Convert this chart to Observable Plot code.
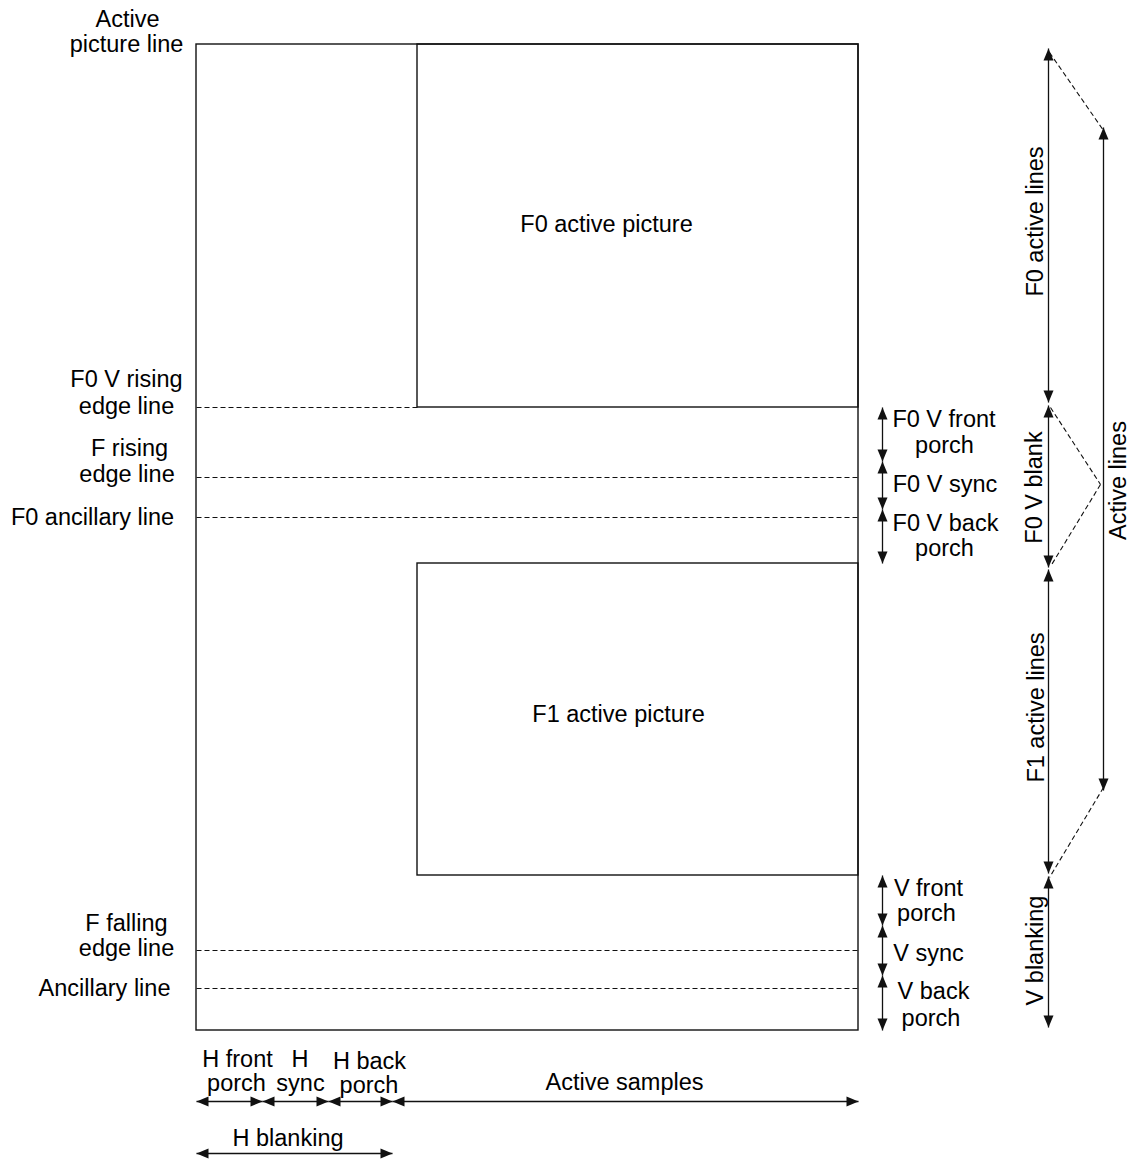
<!DOCTYPE html>
<html><head><meta charset="utf-8">
<script src="https://cdn.jsdelivr.net/npm/d3@7"></script>
<script src="https://cdn.jsdelivr.net/npm/@observablehq/plot@0.6"></script>
<style>html,body{margin:0;padding:0;background:#fff}</style>
</head><body><div id="chart"></div>
<script>
// Diagram geometry (in diagram units, mapped 1:1 by the x/y scales)
const boxes = [
  {name: "frame", x1: 196, x2: 858, y1: 44, y2: 1030},
  {name: "F0 active picture", x1: 417, x2: 858, y1: 44, y2: 407},
  {name: "F1 active picture", x1: 417, x2: 858, y1: 563, y2: 875}
];
const dashedRules = [
  {name: "F0 V rising edge line", y: 407, x1: 196, x2: 417},
  {name: "F rising edge line", y: 477, x1: 196, x2: 858},
  {name: "F0 ancillary line", y: 517, x1: 196, x2: 858},
  {name: "F falling edge line", y: 950, x1: 196, x2: 858},
  {name: "Ancillary line", y: 988, x1: 196, x2: 858}
];
const connectors = [
  {x1: 1049, y1: 52, x2: 1103, y2: 130},
  {x1: 1050, y1: 407, x2: 1100, y2: 484},
  {x1: 1100, y1: 484, x2: 1050, y2: 566},
  {x1: 1103, y1: 787, x2: 1049, y2: 877}
];
const vSpans = [
  {x: 882, y1: 407, y2: 461},
  {x: 882, y1: 461, y2: 509},
  {x: 882, y1: 509, y2: 563},
  {x: 882, y1: 875, y2: 925},
  {x: 882, y1: 925, y2: 975},
  {x: 882, y1: 975, y2: 1030},
  {x: 1048, y1: 48, y2: 402},
  {x: 1048, y1: 405, y2: 567},
  {x: 1048, y1: 569, y2: 873},
  {x: 1048, y1: 876, y2: 1027},
  {x: 1103, y1: 127, y2: 790}
];
const hSpans = [
  {y: 1101, x1: 196, x2: 262},
  {y: 1101, x1: 262, x2: 328},
  {y: 1101, x1: 328, x2: 392},
  {y: 1101, x1: 392, x2: 858},
  {y: 1153, x1: 196, x2: 392}
];
const labels = [
  {text: "Active", x: 127, y: 18.5},
  {text: "picture line", x: 126, y: 44},
  {text: "F0 V rising", x: 126, y: 378.5},
  {text: "edge line", x: 126, y: 405.5},
  {text: "F rising", x: 129, y: 448},
  {text: "edge line", x: 126.5, y: 474},
  {text: "F0 ancillary line", x: 92, y: 516.5},
  {text: "F falling", x: 126, y: 923},
  {text: "edge line", x: 126, y: 947.5},
  {text: "Ancillary line", x: 104, y: 987.5},
  {text: "F0 active picture", x: 606, y: 224},
  {text: "F1 active picture", x: 618, y: 714},
  {text: "F0 V front", x: 943.5, y: 418.5},
  {text: "porch", x: 944, y: 445},
  {text: "F0 V sync", x: 944.5, y: 484},
  {text: "F0 V back", x: 945, y: 522.5},
  {text: "porch", x: 944, y: 547.5},
  {text: "V front", x: 928, y: 887.5},
  {text: "porch", x: 926, y: 913},
  {text: "V sync", x: 928, y: 952.5},
  {text: "V back", x: 933, y: 990.5},
  {text: "porch", x: 930.5, y: 1017.5},
  {text: "H front", x: 237, y: 1058.5},
  {text: "porch", x: 236, y: 1083},
  {text: "H", x: 299.5, y: 1058.5},
  {text: "sync", x: 300, y: 1083},
  {text: "H back", x: 369, y: 1061},
  {text: "porch", x: 368.5, y: 1085},
  {text: "Active samples", x: 624, y: 1082},
  {text: "H blanking", x: 287.5, y: 1138}
];
const verticalLabels = [
  {text: "F0 active lines", x: 1035, y: 221},
  {text: "F0 V blank", x: 1033.5, y: 487},
  {text: "Active lines", x: 1118, y: 480},
  {text: "F1 active lines", x: 1036, y: 707},
  {text: "V blanking", x: 1035, y: 950}
];

// Filled arrowhead glyphs, tip at the anchor point
const headGlyph = (pts) => ({draw(ctx) {
  ctx.moveTo(pts[0][0], pts[0][1]);
  for (let i = 1; i < pts.length; ++i) ctx.lineTo(pts[i][0], pts[i][1]);
  ctx.closePath();
}});
const L = 12, W = 5;
const headUp = headGlyph([[0, 0], [-W, L], [W, L]]);
const headDown = headGlyph([[0, 0], [-W, -L], [W, -L]]);
const headLeft = headGlyph([[0, 0], [L, -W], [L, W]]);
const headRight = headGlyph([[0, 0], [-L, -W], [-L, W]]);

const font = "'Liberation Sans', Arial, Helvetica, sans-serif";
const ink = "#111";

const chart = Plot.plot({
  width: 1133,
  height: 1163,
  margin: 0,
  x: {domain: [0, 1133], range: [0, 1133], axis: null},
  y: {domain: [0, 1163], range: [0, 1163], axis: null},
  style: {background: "#fff", color: ink},
  marks: [
    Plot.rect(boxes, {x1: "x1", x2: "x2", y1: "y1", y2: "y2", fill: "none", stroke: ink, strokeWidth: 1.4}),
    Plot.link(dashedRules, {x1: "x1", x2: "x2", y1: "y", y2: "y", stroke: ink, strokeWidth: 1.1, strokeDasharray: "5,3"}),
    Plot.link(connectors, {x1: "x1", x2: "x2", y1: "y1", y2: "y2", stroke: ink, strokeWidth: 1.1, strokeDasharray: "5,3"}),
    Plot.link(vSpans, {x1: "x", x2: "x", y1: "y1", y2: "y2", stroke: ink, strokeWidth: 1.3}),
    Plot.link(hSpans, {x1: "x1", x2: "x2", y1: "y", y2: "y", stroke: ink, strokeWidth: 1.3}),
    Plot.dot(vSpans, {x: "x", y: "y1", symbol: headUp, r: 5, fill: ink, stroke: "none"}),
    Plot.dot(vSpans, {x: "x", y: "y2", symbol: headDown, r: 5, fill: ink, stroke: "none"}),
    Plot.dot(hSpans, {x: "x1", y: "y", symbol: headLeft, r: 5, fill: ink, stroke: "none"}),
    Plot.dot(hSpans, {x: "x2", y: "y", symbol: headRight, r: 5, fill: ink, stroke: "none"}),
    Plot.text(labels, {x: "x", y: "y", text: "text", fontSize: 23.5, fontFamily: font, fill: "#000", textAnchor: "middle", lineAnchor: "middle"}),
    Plot.text(verticalLabels, {x: "x", y: "y", text: "text", rotate: -90, fontSize: 23.5, fontFamily: font, fill: "#000", textAnchor: "middle", lineAnchor: "middle"})
  ]
});
document.getElementById("chart").appendChild(chart);
</script>
</body></html>
